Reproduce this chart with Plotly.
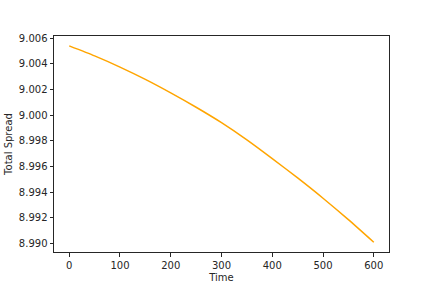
import plotly.graph_objects as go

time = [0, 50, 100, 150, 200, 250, 300, 350, 400, 450, 500, 550, 600]
total_spread = [9.00540, 9.00462, 9.00375, 9.00279, 9.00174, 9.00062, 8.99942,
                8.99808, 8.99662, 8.99511, 8.99353, 8.99186, 8.99010]
x_ticks = [0, 100, 200, 300, 400, 500, 600]
y_ticks = [8.990, 8.992, 8.994, 8.996, 8.998, 9.000, 9.002, 9.004, 9.006]

fig = go.Figure()
fig.add_trace(go.Scatter(x=time, y=total_spread, mode="lines",
                         line=dict(color="#FFA500", width=1.5, shape="spline", smoothing=0.6),
                         showlegend=False))

font = dict(family="DejaVu Sans", size=10, color="#262626")
axis_common = dict(showline=True, linecolor="#262626", linewidth=1, mirror=True,
                   ticks="outside", ticklen=3.5, tickwidth=1, tickcolor="#262626",
                   showgrid=False, zeroline=False, tickfont=font)
fig.update_xaxes(range=[-30, 630], tickvals=x_ticks, ticktext=[str(v) for v in x_ticks],
                 title=dict(text="Time", font=font, standoff=4), **axis_common)
fig.update_yaxes(range=[8.98934, 9.00617], tickvals=y_ticks,
                 ticktext=[f"{v:.3f}" for v in y_ticks],
                 title=dict(text="Total Spread", font=font, standoff=4), **axis_common)
fig.update_layout(width=432, height=288, margin=dict(l=54, r=43, t=36, b=36, autoexpand=False),
                  paper_bgcolor="white", plot_bgcolor="white", font=font)
fig.write_html("out.html")
